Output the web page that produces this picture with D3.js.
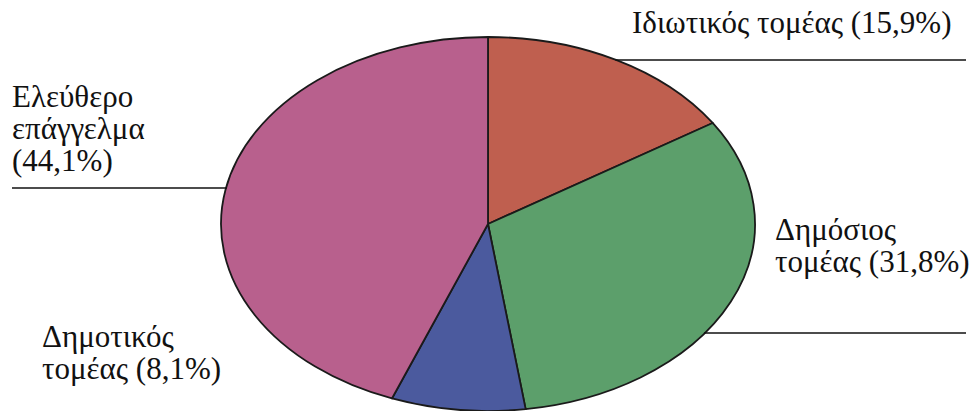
<!DOCTYPE html>
<html>
<head>
<meta charset="utf-8">
<script src="https://cdn.jsdelivr.net/npm/d3@7"></script>
<style>
  html, body { margin: 0; padding: 0; background: #ffffff; }
  svg { display: block; }
</style>
</head>
<body>
<svg id="chart" width="973" height="411"></svg>
<script>
// Sector shares of employment, clockwise from 12 o'clock
const categories = ["Ιδιωτικός τομέας", "Δημόσιος τομέας", "Δημοτικός τομέας", "Ελεύθερο επάγγελμα"];
const values = [15.9, 31.8, 8.1, 44.1];
const sliceColors = ["#bf5f4f", "#5c9f6b", "#4b5a9e", "#b8608d"];

// Label layout: word breaks, anchor point and leader line (y, outer x end)
const labelLayout = [
  { breaks: [], x: 632, y: 33, leader: { y: 60, to: 966 } },
  { breaks: [1], x: 775, y: 240, leader: { y: 333, to: 966 } },
  { breaks: [1], x: 42, y: 347, leader: null },
  { breaks: [1, 2], x: 12, y: 107, leader: { y: 188, to: 12 } }
];

const svg = d3.select("#chart");
const cx = 488, cy = 224, rx = 267, ry = 187;
const lineGap = 32;
const fontSize = 31;
const fontFamily = "serif";

const pie = d3.pie().sort(null).value(d => d);
const arcs = pie(values);
const arc = d3.arc().innerRadius(0).outerRadius(ry);

const g = svg.append("g")
  .attr("transform", `translate(${cx},${cy}) scale(${rx / ry},1)`);

g.selectAll("path")
  .data(arcs)
  .join("path")
  .attr("d", arc)
  .attr("fill", (d, i) => sliceColors[i])
  .attr("stroke", "#1a1a1a")
  .attr("stroke-width", 1.8)
  .attr("stroke-linejoin", "round")
  .attr("vector-effect", "non-scaling-stroke");

const fmt = v => d3.format(".1f")(v).replace(".", ",");

// Leader lines start on the ellipse rim at the given height
function rimX(y, side) {
  const t = (y - cy) / ry;
  return cx + side * rx * Math.sqrt(Math.max(0, 1 - t * t));
}

categories.forEach((name, i) => {
  const lay = labelLayout[i];
  const words = (name + " (" + fmt(values[i]) + "%)").split(" ");
  const lines = [];
  let start = 0;
  lay.breaks.concat([words.length]).forEach(b => {
    lines.push(words.slice(start, b).join(" "));
    start = b;
  });
  // One text element per line
  lines.forEach((ln, k) => {
    svg.append("text")
      .attr("x", lay.x)
      .attr("y", lay.y + k * lineGap)
      .attr("font-family", fontFamily)
      .attr("font-size", fontSize)
      .attr("fill", "#111")
      .text(ln);
  });

  if (lay.leader) {
    const side = lay.leader.to > cx ? 1 : -1;
    svg.append("line")
      .attr("x1", rimX(lay.leader.y, side) - side * 1)
      .attr("x2", lay.leader.to)
      .attr("y1", lay.leader.y)
      .attr("y2", lay.leader.y)
      .attr("stroke", "#111")
      .attr("stroke-width", 1.6);
  }
});
</script>
</body>
</html>
